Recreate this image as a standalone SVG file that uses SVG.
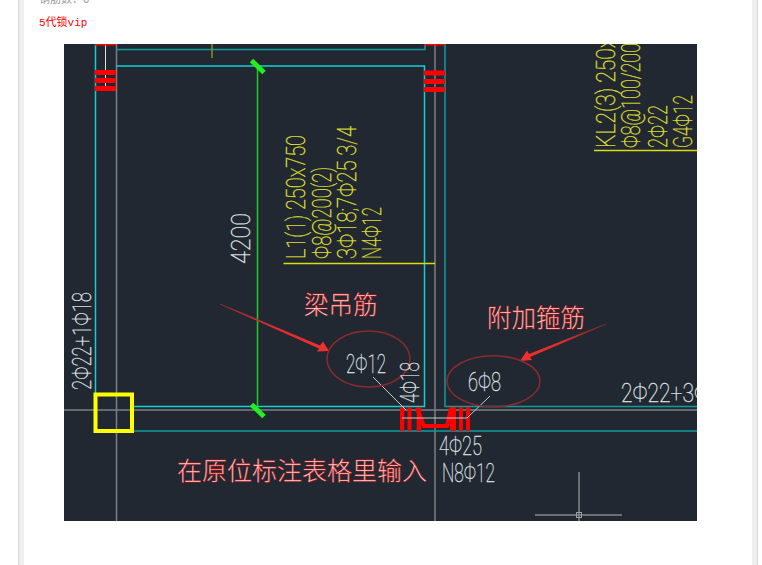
<svg xmlns="http://www.w3.org/2000/svg" width="762" height="565" viewBox="0 0 762 565">
<defs>
<style>
.cad{font-family:Roboto,"Liberation Sans",sans-serif;font-weight:100;font-size:25px;stroke-width:.35px}
.w{fill:#dfe1e3;stroke:#dfe1e3}
.y{fill:#e0e030;stroke:#e0e030}
.zh{font-family:"Noto Sans CJK SC",sans-serif;font-weight:300;fill:#ffd8d8;stroke:#ff1010;stroke-width:.35}
.cy{stroke:#10d0d4;stroke-width:1.5;fill:none}
.te{stroke:#109a9e;stroke-width:1.5;fill:none}
.gr{stroke:#7c7f82;stroke-width:1.5;fill:none}
.re{fill:#ff0000}
.ci{fill:none;stroke:#8c2a2e;stroke-width:1.5}
</style>
<clipPath id="c"><rect x="64" y="44" width="633" height="477"/></clipPath>
<linearGradient id="a1" gradientUnits="userSpaceOnUse" x1="220" y1="304" x2="329" y2="351"><stop offset="0" stop-color="#8c2a2e"/><stop offset=".5" stop-color="#e02c2c"/><stop offset="1" stop-color="#f03030"/></linearGradient>
<linearGradient id="a2" gradientUnits="userSpaceOnUse" x1="606" y1="324" x2="520" y2="361"><stop offset="0" stop-color="#6a2a2e"/><stop offset=".5" stop-color="#e02c2c"/><stop offset="1" stop-color="#f03030"/></linearGradient>
</defs>
<rect width="762" height="565" fill="#fff"/>
<rect x="18" y="0" width="1.5" height="565" fill="#d8d8d0"/>
<rect x="19.5" y="0" width="4.5" height="565" fill="#efefef"/>
<rect x="752" y="0" width="5" height="565" fill="#efefef"/>
<rect x="757" y="0" width="1" height="565" fill="#d8d8d0"/>
<text x="39" y="3" font-family="Noto Sans CJK SC,sans-serif" font-size="11" fill="#999">钢筋数：6</text>
<text x="39" y="26" font-family="Liberation Mono,Noto Sans CJK SC,monospace" font-size="11" fill="#f00">5代锁vip</text>
<rect x="64" y="44" width="633" height="477" fill="#222831"/>
<g clip-path="url(#c)">
<g id="frame">
<path class="cy" d="M95.500 44V393"/>
<path class="gr" d="M116.500 44V521M435 44V521M64 410H697"/>
<path class="cy" d="M116 66H424.500V406.500H134"/>
<path class="te" d="M116 49.500H425V44M445 44V406.500H697M134 431H697"/>
<path stroke="#e0e0e0" stroke-width="1" d="M105.500 44V89"/>
<path stroke="#8e8e22" stroke-width="1.500" d="M212 44V58"/>
<path stroke="#22cc22" stroke-width="1.500" d="M257.500 66V406"/>
<path stroke="#dcdc14" stroke-width="1.500" d="M283.500 263.500H435M594 150.500H697"/>
</g>
<g id="rebar">
<rect class="re" x="95" y="44" width="21" height="1.500"/><rect class="re" x="95" y="70" width="21" height="5"/><rect class="re" x="95" y="78" width="21" height="5"/><rect class="re" x="95" y="86" width="21" height="5"/>
<rect class="re" x="424" y="44" width="21" height="1.500"/><rect class="re" x="424" y="70.500" width="21" height="5"/><rect class="re" x="424" y="79" width="21" height="5"/><rect class="re" x="424" y="87" width="21" height="5"/>
<rect class="re" x="400" y="407" width="4.300" height="24"/><rect class="re" x="407.500" y="407" width="4" height="24"/><rect class="re" x="416.700" y="407" width="4.500" height="24"/><rect class="re" x="450" y="407" width="6" height="24"/><rect class="re" x="459" y="407" width="4" height="24"/><rect class="re" x="466" y="407" width="4" height="24"/>
<path fill="none" stroke="#f00" stroke-width="4" d="M417 408L424 426H447L451 408"/>
</g>
<g id="markers"><path stroke="#22ee22" stroke-width="5" d="M251.500 60.500L264 72.500M251.500 404.500L264 416.500"/></g>
<g id="column"><rect x="95.500" y="394.500" width="36.500" height="36.500" fill="none" stroke="#ffff00" stroke-width="4"/></g>
<g id="cross"><path stroke="#85888b" stroke-width="1.500" fill="none" d="M579 472V521M535 515H622"/><rect x="576.500" y="512.500" width="5" height="5" fill="none" stroke="#a0a0a0"/></g>
<g id="connectors">
<path stroke="#c8cacc" stroke-width="1" fill="none" d="M373 377L406 410M402 418H467L490 396"/>
<path fill="url(#a1)" d="M220 303.500L320 345.500L323 341.500L329 351L317 351.500L319 348.500L220 304.500Z"/>
<path fill="url(#a2)" d="M606 323.500L529 354L527 350.500L520 361L532 360L530 357L606 324.500Z"/>
</g>
<g id="ellipses">
<ellipse class="ci" cx="368.500" cy="359" rx="41.500" ry="28"/>
<ellipse class="ci" cx="493.500" cy="381.300" rx="46.500" ry="25.500"/>
</g>
<g id="labels">
<text class="cad y" transform="translate(305 259) rotate(-90)" textLength="124" lengthAdjust="spacingAndGlyphs">L1(1) 250x750</text>
<text class="cad y" transform="translate(330.500 259) rotate(-90)" textLength="92" lengthAdjust="spacingAndGlyphs">Φ8@200(2)</text>
<text class="cad y" transform="translate(356 259) rotate(-90)" textLength="133" lengthAdjust="spacingAndGlyphs">3Φ18;7Φ25 3/4</text>
<text class="cad y" transform="translate(381 259) rotate(-90)" textLength="52" lengthAdjust="spacingAndGlyphs">N4Φ12</text>
<text class="cad w" transform="translate(250 264) rotate(-90)" textLength="51" lengthAdjust="spacingAndGlyphs">4200</text>
<text class="cad y" transform="translate(615 148) rotate(-90)" textLength="110" lengthAdjust="spacingAndGlyphs">KL2(3) 250x</text>
<text class="cad y" transform="translate(640 148) rotate(-90)" textLength="105" lengthAdjust="spacingAndGlyphs">Φ8@100/200</text>
<text class="cad y" transform="translate(666.500 148) rotate(-90)" textLength="43" lengthAdjust="spacingAndGlyphs">2Φ22</text>
<text class="cad y" transform="translate(692 148) rotate(-90)" textLength="53" lengthAdjust="spacingAndGlyphs">G4Φ12</text>
<text class="cad w" transform="translate(91 390) rotate(-90)" textLength="98" lengthAdjust="spacingAndGlyphs">2Φ22+1Φ18</text>
<text class="cad w" transform="translate(419 403) rotate(-90)" textLength="41" lengthAdjust="spacingAndGlyphs">4Φ18</text>
<text class="cad w" x="346" y="373" textLength="40" lengthAdjust="spacingAndGlyphs">2Φ12</text>
<text class="cad w" x="468" y="391" textLength="33" lengthAdjust="spacingAndGlyphs">6Φ8</text>
<text class="cad w" x="621" y="402" textLength="88" lengthAdjust="spacingAndGlyphs">2Φ22+3Φ</text>
<text class="cad w" x="439" y="455" textLength="43" lengthAdjust="spacingAndGlyphs">4Φ25</text>
<text class="cad w" x="442" y="482" textLength="53" lengthAdjust="spacingAndGlyphs">N8Φ12</text>
<text class="zh" x="304" y="314" font-size="24.500">梁吊筋</text>
<text class="zh" x="487" y="327" font-size="24.500">附加箍筋</text>
<text class="zh" x="177" y="480" font-size="25">在原位标注表格里输入</text>
</g>
</g>
</svg>
